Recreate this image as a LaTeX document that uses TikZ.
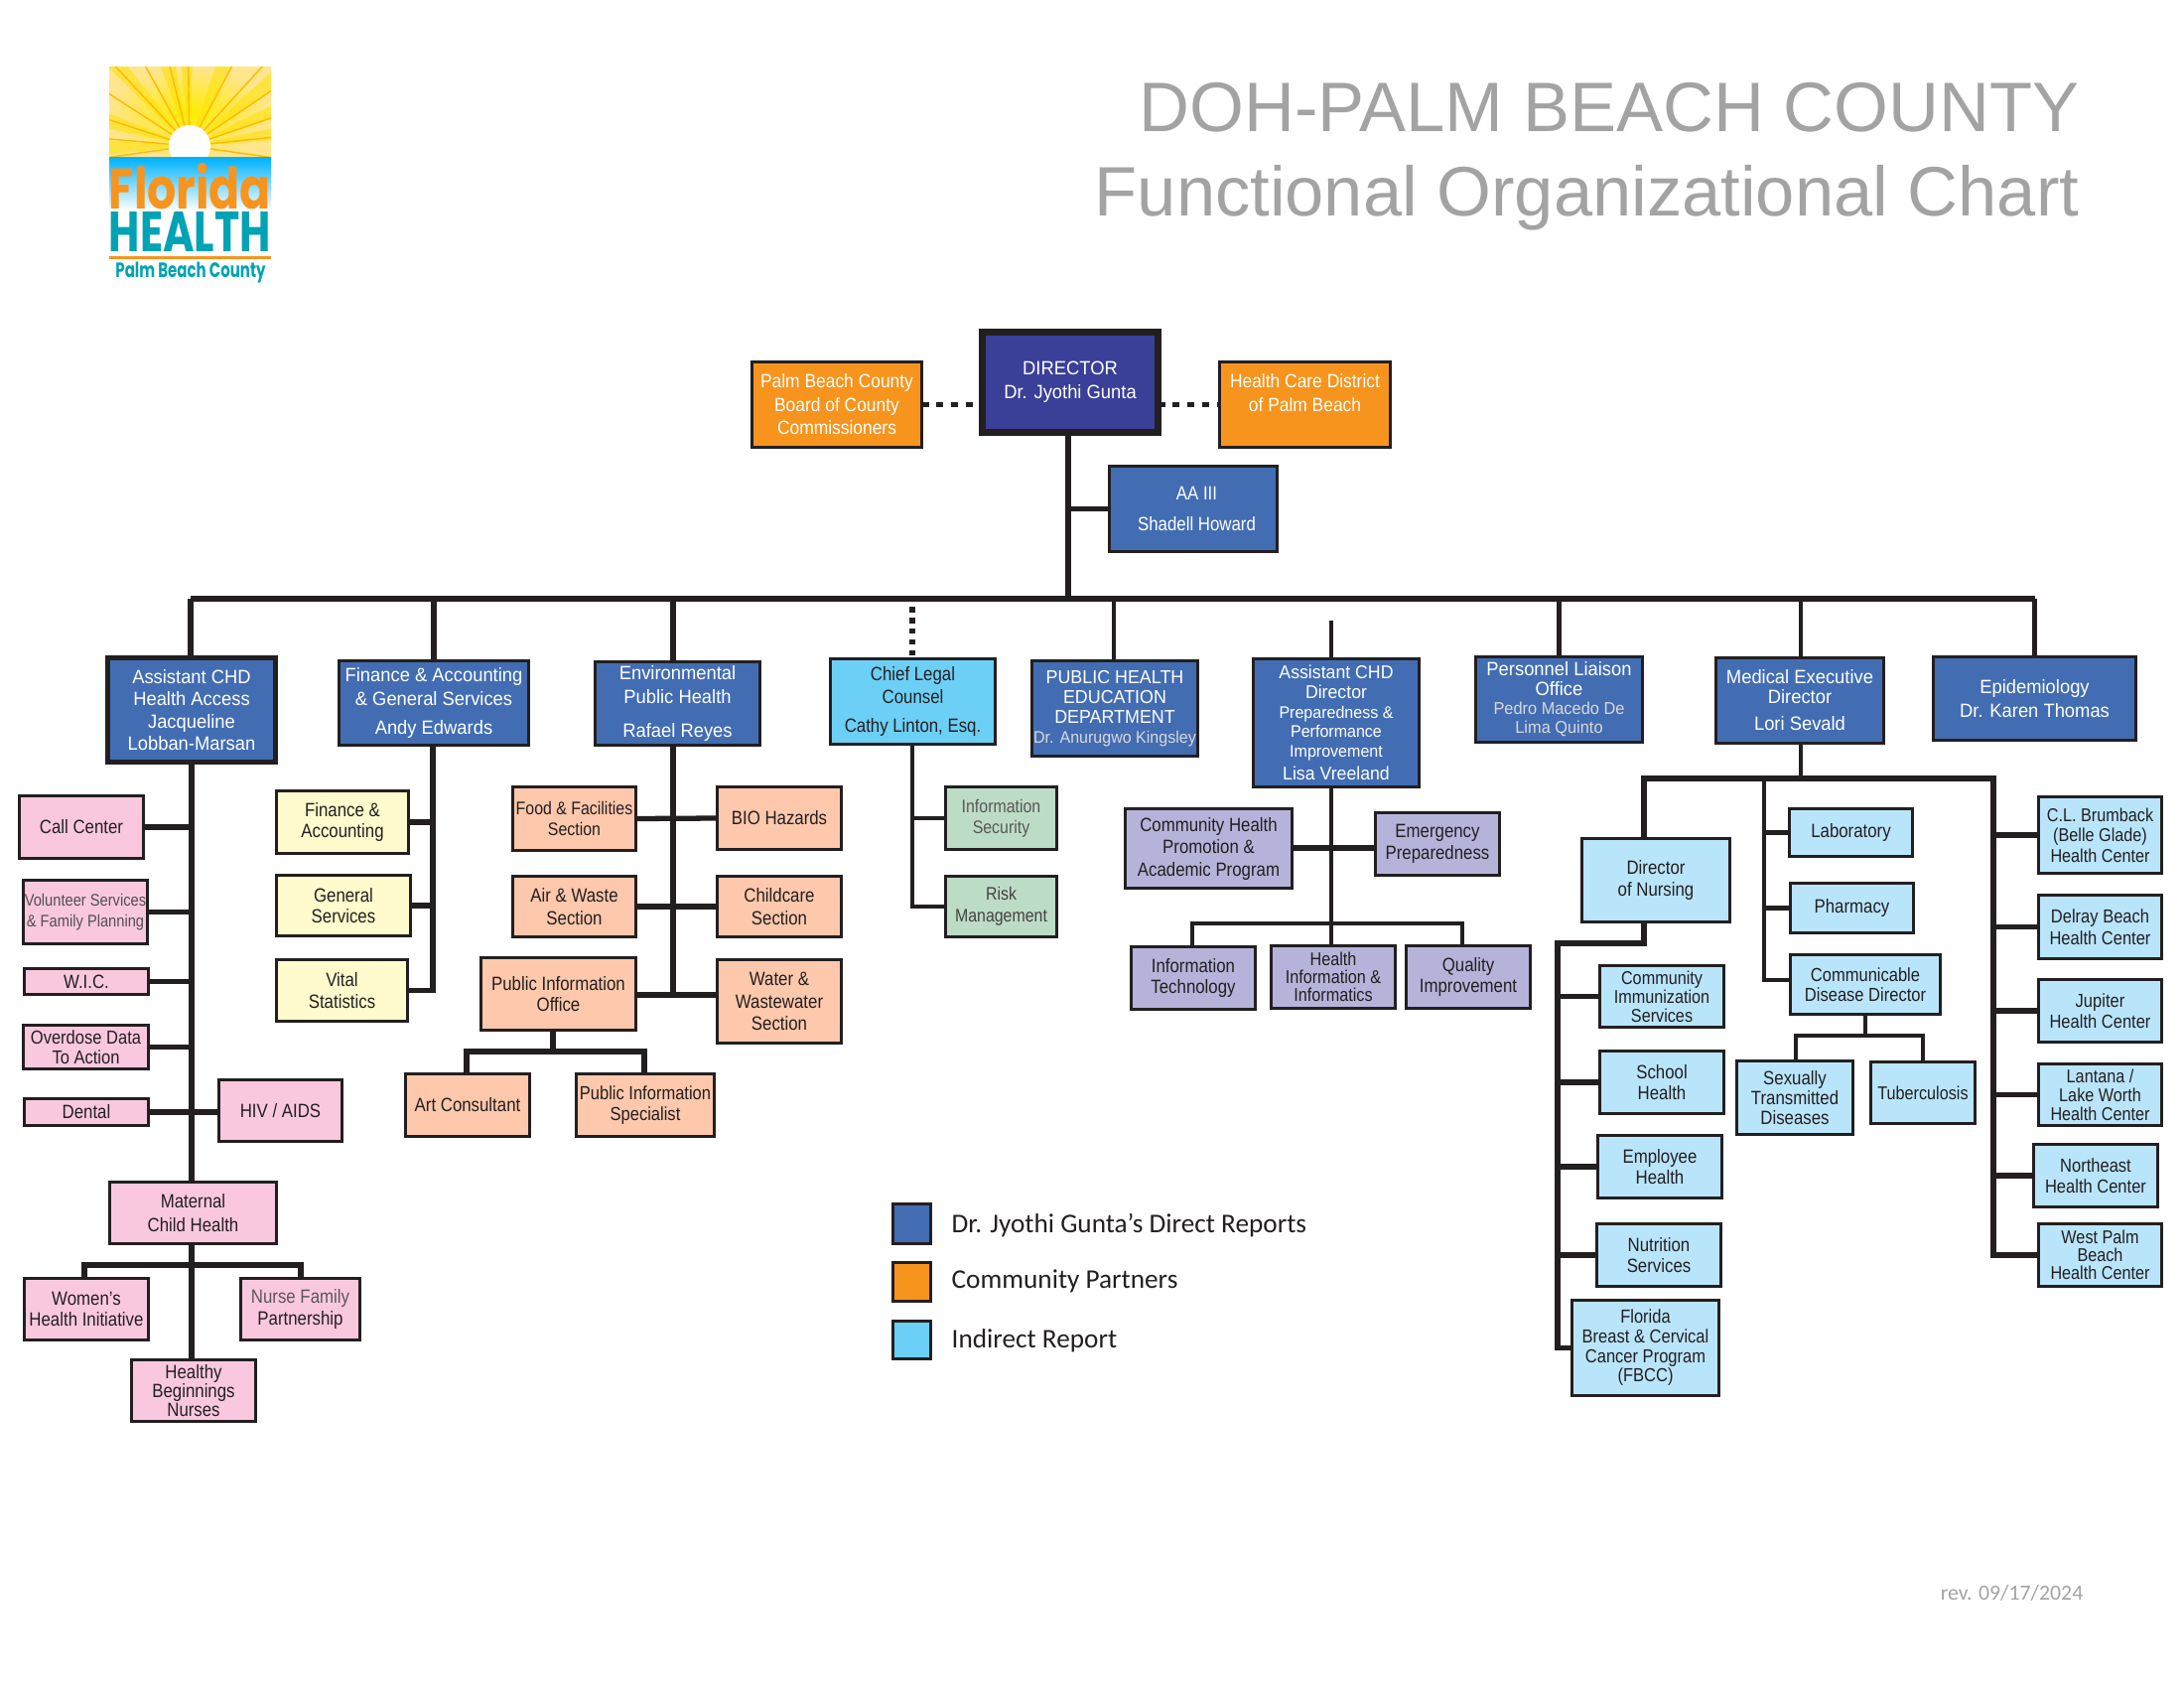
\documentclass[tikz,border=0pt]{standalone}
\usepackage{fontspec}
\usepackage{graphicx}
\setmainfont[FakeStretch=0.87]{Liberation Sans}
\newfontfamily\rowfont[FakeStretch=0.95]{Liberation Sans}
\newfontfamily\orfont[FakeStretch=0.90]{Liberation Sans}
\newfontfamily\titfont{Liberation Sans}
\newfontfamily\legfont{Carlito}
\newfontfamily\logofont{Poppins}
\usetikzlibrary{calc}
\definecolor{ink}{HTML}{231F20}
\definecolor{cblue}{HTML}{426DB3}
\definecolor{cdir}{HTML}{3A3F98}
\definecolor{corange}{HTML}{F7941E}
\definecolor{csky}{HTML}{6CCFF6}
\definecolor{cpale}{HTML}{B9E5FB}
\definecolor{cpink}{HTML}{F9C8DF}
\definecolor{cyel}{HTML}{FFFBCC}
\definecolor{csal}{HTML}{FDC8AC}
\definecolor{clav}{HTML}{B6B3DA}
\definecolor{cgrn}{HTML}{BDDCC5}
\definecolor{cgrey}{HTML}{A3A3A3}
\definecolor{cteal}{HTML}{00A3B4}
\newcommand{\sz}[2]{\fontsize{#1}{#2}\selectfont}
\tikzset{
  fz/.style 2 args={font=\sz{#1}{#2}},
  rz/.style 2 args={font=\rowfont\sz{#1}{#2}},
  base/.style={draw=ink,line width=.72pt,inner sep=0pt,outer sep=0pt,align=center,text=ink,font=\sz{5.5}{6.7}},
  tk/.style={line width=1.05pt},
  blue/.style={base,fill=cblue,text=white,line width=1.05pt,font=\rowfont\sz{5.5}{6.7}},
  orng/.style={base,fill=corange,text=white,line width=1.05pt,font=\orfont\sz{5.5}{6.7}},
  dirb/.style={base,fill=cdir,text=white,line width=2.2pt,font=\rowfont\sz{5.5}{6.7}},
  pink/.style={base,fill=cpink},
  yelw/.style={base,fill=cyel},
  salm/.style={base,fill=csal},
  lave/.style={base,fill=clav},
  gren/.style={base,fill=cgrn},
  pale/.style={base,fill=cpale},
  sky/.style={base,fill=csky,line width=1pt},
  conn/.style={draw=ink,line width=1.5pt,line cap=butt,line join=miter},
  dots/.style={draw=ink,line width=1.7pt,dash pattern=on 2pt off 2.2pt},
  titl/.style={inner sep=0pt,text=cgrey,font=\titfont\sz{20.05}{24},anchor=base east},
  legt/.style={inner sep=0pt,text=ink,font=\legfont\sz{7.75}{9},anchor=west}
}
\newcommand{\bx}[7]{%
  \pgfmathsetmacro{\bw}{(#4-#2-3)*0.01}\pgfmathsetmacro{\bh}{(#5-#3-3)*0.01}%
  \pgfmathsetmacro{\bcx}{(#2+#4)/2}\pgfmathsetmacro{\bcy}{(#3+#5)/2}%
  \node[#6,minimum width=\bw cm,minimum height=\bh cm] (#1) at (\bcx,\bcy) {#7};}
\begin{document}
\begin{tikzpicture}[x=0.01cm,y=-0.01cm]
\useasboundingbox (0,0) rectangle (2200,1700);
% logo
\begin{scope}
\clip (110,68) rectangle (273,159);
\shade[inner color=yellow!85!orange,outer color=yellow!55!orange!45!white] (110,68) rectangle (273,159);
\foreach \a/\b in {136/128,110/100,96/88,72/62,42/34,26/18,12/4,168/158,186/176}{
  \fill[yellow!85!orange,opacity=.55] (191,147) -- ({191+200*cos(\a)},{147-200*sin(\a)}) -- ({191+200*cos(\b)},{147-200*sin(\b)}) -- cycle;}
\foreach \a in {133,119,104,91,62,47.5,147,162,175,188,34,19,6,-8}{
  \draw[orange!55!yellow,line width=.4pt] (191,147) -- ({191+200*cos(\a)},{147-200*sin(\a)});}
\fill[white] (191,147) circle[radius=21];
\end{scope}
\shade[top color=cyan!70!blue,bottom color=white] (110,159) rectangle (273,212);
\node[inner sep=0pt,text=corange] (logof) at (191.5,188) {\resizebox{1.63cm}{0.46cm}{\logofont\bfseries Florida}};
\node[inner sep=0pt,text=cteal] (logoh) at (191.5,233) {\resizebox{1.63cm}{0.40cm}{\logofont\bfseries HEALTH}};
\fill[corange] (110,258) rectangle (273,261);
\node[inner sep=0pt,text=cteal] (logop) at (192,275) {\resizebox*{1.51cm}{0.21cm}{\logofont\bfseries Palm Beach County}};
% title
\node[titl] (t1) at (2095,133) {DOH-PALM BEACH COUNTY};
\node[titl] (t2) at (2095,218) {Functional Organizational Chart};
\node[inner sep=0pt,anchor=east,text=cgrey,font=\legfont\sz{6.2}{7}] (rev) at (2099,1604) {rev. 09/17/2024};
% top
\bx{pbc}{756}{363}{930}{452}{orng}{Palm Beach County\\Board of County\\Commissioners}
\bx{dir}{988}{333}{1168}{437}{dirb}{DIRECTOR\\Dr. Jyothi Gunta}
\bx{hcd}{1227}{363}{1402}{452}{orng}{Health Care District\\of Palm Beach\\\ }
\bx{aa}{1116}{468}{1288}{557}{blue,font=\sz{5.5}{6.7}}{\hspace*{2pt}AA III\\[2.2pt]\hspace*{2pt}Shadell Howard}
% row
\bx{ach}{107}{661}{279}{769}{blue,line width=1.15pt,rz={5.5}{6.4}}{Assistant CHD\\Health Access\\Jacqueline\\Lobban-Marsan}
\bx{fin}{340}{664}{534}{752}{blue}{Finance \& Accounting\\\& General Services\\[1.5pt]Andy Edwards}
\bx{env}{598}{665}{767}{752}{blue}{Environmental\\Public Health\\[3pt]Rafael Reyes}
\bx{leg}{835}{662}{1004}{751}{sky}{Chief Legal\\Counsel\\[1.5pt]Cathy Linton, Esq.}
\bx{phe}{1038}{664}{1208}{763}{blue,rz={5.35}{5.7}}{PUBLIC HEALTH\\EDUCATION\\DEPARTMENT\\{\sz{4.8}{5}\color{white!85!black}Dr. Anurugwo Kingsley}}
\bx{acd}{1261}{662}{1431}{794}{blue,rz={5.3}{5.6}}{Assistant CHD\\Director\\{\sz{4.8}{5}Preparedness \&}\\{\sz{4.8}{5}Performance}\\{\sz{4.8}{5}Improvement}\\[1pt]Lisa Vreeland}
\bx{per}{1485}{660}{1656}{749}{blue,rz={5.5}{5.5}}{\ \\[-1.5pt]Personnel Liaison\\Office\\{\sz{4.9}{5.5}\color{white!85!black}Pedro Macedo De}\\{\sz{4.9}{5.5}\color{white!85!black}Lima Quinto}}
\bx{med}{1727}{661}{1899}{750}{blue,rz={5.5}{5.7}}{Medical Executive\\Director\\[2pt]Lori Sevald}
\bx{epi}{1946}{660}{2153}{747}{blue}{Epidemiology\\Dr. Karen Thomas}
% health access
\bx{call}{18}{800}{146}{866}{pink}{Call Center}
\bx{vol}{22}{885}{150}{952}{pink,text=ink!78,fz={4.8}{6}}{Volunteer Services\\\& Family Planning}
\bx{wic}{23}{974}{151}{1003}{pink}{W.I.C.}
\bx{ovd}{22}{1031}{151}{1078}{pink,tk,fz={5.4}{5.7}}{Overdose Data\\To Action}
\bx{den}{23}{1105}{151}{1135}{pink}{Dental}
\bx{hiv}{219}{1086}{346}{1151}{pink}{HIV / AIDS}
\bx{mat}{109}{1189}{280}{1254}{pink,tk}{Maternal\\Child Health}
\bx{wom}{23}{1286}{151}{1351}{pink,fz={5.5}{6.1}}{Women’s\\Health Initiative}
\bx{nur}{241}{1286}{364}{1351}{pink,fz={5.5}{6.1}}{{\color{ink!75}Nurse Family}\\Partnership}
\bx{hea}{131}{1368}{259}{1433}{pink,fz={5.5}{5.4}}{Healthy\\Beginnings\\Nurses}
% finance
\bx{fa}{277}{795}{413}{861}{yelw,fz={5.5}{6.1}}{Finance \&\\Accounting}
\bx{gs}{277}{880}{415}{944}{yelw,fz={5.5}{6.1}}{General\\Services}
\bx{vs}{277}{965}{412}{1030}{yelw,fz={5.5}{6.1}}{Vital\\Statistics}
% env
\bx{food}{515}{791}{642}{858}{salm,fz={5.2}{6.1}}{Food \& Facilities\\Section}
\bx{air}{515}{881}{642}{945}{salm}{Air \& Waste\\Section}
\bx{pio}{483}{963}{642}{1039}{salm,tk,fz={5.5}{6.1}}{Public Information\\Office}
\bx{bio}{721}{791}{849}{857}{salm}{BIO Hazards}
\bx{chc}{721}{881}{849}{945}{salm}{Childcare\\Section}
\bx{wat}{721}{965}{849}{1052}{salm,fz={5.5}{6.4}}{Water \&\\Wastewater\\Section}
\bx{art}{407}{1080}{535}{1146}{salm}{Art Consultant}
\bx{pis}{579}{1080}{721}{1146}{salm,fz={5.4}{6}}{Public Information\\Specialist}
% legal
\bx{sec}{951}{791}{1066}{857}{gren,text=ink!75,fz={5.2}{5.9}}{Information\\Security}
\bx{rsk}{951}{881}{1066}{945}{gren,text=ink!85,fz={5.2}{6.2}}{Risk\\Management}
% asst chd dir
\bx{chp}{1132}{813}{1303}{896}{lave,tk,fz={5.5}{6.4}}{Community Health\\Promotion \&\\Academic Program}
\bx{emg}{1384}{817}{1512}{883}{lave,fz={5.5}{6.1}}{Emergency\\Preparedness}
\bx{itc}{1138}{952}{1266}{1018}{lave,fz={5.5}{6.2}}{Information\\Technology}
\bx{hii}{1279}{951}{1407}{1017}{lave,fz={5.3}{5.2}}{Health\\Information \&\\Informatics}
\bx{qua}{1415}{951}{1543}{1017}{lave,fz={5.5}{6.1}}{Quality\\Improvement}
% medical
\bx{don}{1592}{843}{1744}{930}{pale,tk,fz={5.5}{6.2}}{Director\\of Nursing}
\bx{lab}{1801}{813}{1928}{864}{pale}{Laboratory}
\bx{pha}{1802}{888}{1929}{941}{pale}{Pharmacy}
\bx{cdd}{1802}{960}{1956}{1023}{pale,fz={5.4}{5.8}}{Communicable\\Disease Director}
\bx{std}{1748}{1067}{1868}{1144}{pale,fz={5.5}{5.6}}{Sexually\\Transmitted\\Diseases}
\bx{tub}{1883}{1068}{1991}{1133}{pale,fz={5.3}{6}}{Tuberculosis}
\bx{cis}{1610}{971}{1738}{1036}{pale,fz={5.3}{5.4}}{Community\\Immunization\\Services}
\bx{sch}{1610}{1057}{1738}{1123}{pale,fz={5.5}{6.2}}{School\\Health}
\bx{emp}{1608}{1142}{1736}{1208}{pale,fz={5.5}{6.2}}{Employee\\Health}
\bx{nut}{1607}{1231}{1735}{1297}{pale,fz={5.5}{6.2}}{Nutrition\\Services}
\bx{flo}{1582}{1308}{1733}{1407}{pale,tk,fz={5.4}{5.6}}{Florida\\Breast \& Cervical\\Cancer Program\\(FBCC)}
\bx{clb}{2052}{801}{2179}{881}{pale,fz={5.3}{5.8}}{C.L. Brumback\\(Belle Glade)\\Health Center}
\bx{del}{2052}{900}{2179}{967}{pale,fz={5.4}{6.1}}{Delray Beach\\Health Center}
\bx{jup}{2052}{985}{2179}{1051}{pale,fz={5.4}{6.1}}{Jupiter\\Health Center}
\bx{lan}{2052}{1070}{2179}{1135}{pale,fz={5.3}{5.4}}{Lantana /\\Lake Worth\\Health Center}
\bx{nor}{2047}{1151}{2175}{1217}{pale,fz={5.4}{6.1}}{Northeast\\Health Center}
\bx{wes}{2052}{1231}{2179}{1297}{pale,fz={5.3}{5.2}}{West Palm\\Beach\\Health Center}
% legend
\bx{lg1}{898}{1211}{939}{1254}{base,fill=cblue,line width=1pt}{}
\bx{lg2}{898}{1270}{939}{1312}{base,fill=corange,line width=1pt}{}
\bx{lg3}{898}{1329}{939}{1370}{base,fill=csky,line width=1pt}{}
\node[legt] (l1) at (958,1234) {Dr. Jyothi Gunta’s Direct Reports};
\node[legt] (l2) at (958,1290) {Community Partners};
\node[legt] (l3) at (958,1350) {Indirect Report};
% junctions
\coordinate (barw) at (192,603);
\coordinate (bare) at (2050,603);
\coordinate (hub) at (1076,603);
\coordinate (spa) at (193,1189);
\coordinate (spf) at (436,990);
\coordinate (spe) at (678,1002);
\coordinate (spl) at (919,916);
\coordinate (spc) at (1341,930);
\coordinate (spm) at (1814,784);
\coordinate (nl) at (1569,950);
\coordinate (barnw) at (1656,784);
\coordinate (barne) at (2008,784);
\coordinate (midb) at (1777,987);
% top connectors
\draw[dots] (pbc.east) -- (pbc.east -| dir.west);
\draw[dots] (dir.east |- hcd.east) -- (hcd.west);
\draw[conn,line width=1.6pt] (dir.south -| hub) -- (hub);
\draw[conn,line width=1.2pt] (aa.west) -- (aa.west -| hub);
\draw[conn,line width=1.7pt] (barw) -- (bare);
\draw[conn] (barw) -- (ach.north -| barw);
\draw[conn] (fin.north |- barw) -- (fin.north);
\draw[conn] (spe |- barw) -- (env.north -| spe);
\draw[draw=ink,line width=1.6pt,dash pattern=on 1.6pt off 1.5pt] (spl |- 0,611) -- (leg.north -| spl);
\coordinate (phetop) at (1122,603);
\draw[conn,line width=1.3pt] (phetop) -- (phe.north -| phetop);
\draw[conn,line width=1.2pt] (spc |- 0,625) -- (acd.north -| spc);
\draw[conn,line width=1.3pt] (per.north |- barw) -- (per.north);
\draw[conn,line width=1.3pt] (spm |- barw) -- (med.north -| spm);
\draw[conn,line width=1.4pt] (epi.north |- barw) -- (epi.north);
% health access
\draw[conn,line width=1.6pt] (ach.south -| spa) -- (spa);
\draw[conn] (call.east) -- (call.east -| spa);
\draw[conn] (vol.east) -- (vol.east -| spa);
\draw[conn] (wic.east) -- (wic.east -| spa);
\draw[conn] (ovd.east) -- (ovd.east -| spa);
\draw[conn] (den.east) -- (hiv.west |- den.east);
\draw[conn,line width=1.6pt] (mat.south -| spa) -- (hea.north -| spa);
\coordinate (mbar) at (193,1274);
\draw[conn] (wom.north -| 85,0) |- (mbar) -| (nur.north -| 303,0);
% finance
\draw[conn,line width=1.7pt] (fin.south -| spf) |- (vs.east);
\draw[conn] (fa.east) -- (fa.east -| spf);
\draw[conn] (gs.east) -- (gs.east -| spf);
% env
\draw[conn,line width=1.5pt] (env.south -| spe) -- (spe);
\draw[conn] (food.east) -- (bio.west);
\draw[conn] (air.east) -- (chc.west);
\draw[conn] (pio.east |- spe) -- (spe) -- (wat.west |- spe);
\coordinate (pbar) at (557,1059);
\draw[conn] (pio.south -| pbar) -- (pbar);
\draw[conn] (art.north -| 470,0) |- (pbar) -| (pis.north -| 649,0);
% legal
\draw[conn,line width=1.3pt] (leg.south -| spl) |- (rsk.west);
\draw[conn,line width=1.3pt] (spl |- sec.west) -- (sec.west);
% acd
\draw[conn,line width=1.3pt] (acd.south -| spc) -- (hii.north -| spc);
\draw[conn] (chp.east |- 0,854) -- (emg.west |- 0,854);
\draw[conn,line width=1.3pt] (itc.north -| 1201,0) |- (spc) -| (qua.north -| 1473,0);
% medical
\draw[conn,line width=1.4pt] (med.south -| spm) -- (spm);
\draw[conn,line width=1.6pt] (don.north -| barnw) |- (barne) |- (wes.west);
\draw[conn,line width=1.6pt] (don.south -| barnw) |- (nl) |- (flo.west);
\draw[conn] (nl |- cis.west) -- (cis.west);
\draw[conn] (nl |- sch.west) -- (sch.west);
\draw[conn] (nl |- emp.west) -- (emp.west);
\draw[conn] (nl |- nut.west) -- (nut.west);
\draw[conn,line width=1.3pt] (midb |- barne) -- (midb) -- (cdd.west |- midb);
\draw[conn,line width=1.3pt] (midb |- lab.west) -- (lab.west);
\draw[conn,line width=1.3pt] (midb |- pha.west) -- (pha.west);
\coordinate (cbar) at (1879,1043);
\draw[conn,line width=1.2pt] (cdd.south -| cbar) -- (cbar);
\draw[conn,line width=1.3pt] (std.north -| 1809,0) |- (cbar) -| (tub.north -| 1937,0);
\draw[conn] (barne |- clb.west) -- (clb.west);
\draw[conn] (barne |- del.west) -- (del.west);
\draw[conn] (barne |- jup.west) -- (jup.west);
\draw[conn] (barne |- lan.west) -- (lan.west);
\draw[conn] (barne |- nor.west) -- (nor.west);
\end{tikzpicture}
\end{document}
